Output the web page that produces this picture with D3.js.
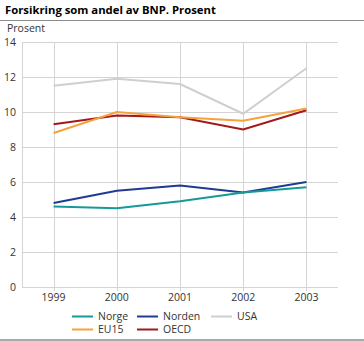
<!DOCTYPE html>
<html lang="no">
<head>
<meta charset="utf-8">
<script type="text/javascript" src="https://cdnjs.cloudflare.com/ajax/libs/d3/7.8.5/d3.min.js"></script>
<style>
body { margin: 0; background: #fff; }
svg { display: block; font-family: "Open Sans", "DejaVu Sans", sans-serif; }
</style>
</head>
<body>
<script type="text/javascript">
    var years = ["1999", "2000", "2001", "2002", "2003"]
    var yTicks = [0, 2, 4, 6, 8, 10, 12, 14]
    var norge = [4.6, 4.5, 4.9, 5.4, 5.7]
    var norden = [4.8, 5.5, 5.8, 5.4, 6.0]
    var usa = [11.5, 11.9, 11.6, 9.9, 12.5]
    var eu15 = [8.8, 10.0, 9.7, 9.5, 10.2]
    var oecd = [9.3, 9.8, 9.7, 9.0, 10.1]

    var series = [
        {name: "USA", values: usa, color: "#cfcfcf"},
        {name: "OECD", values: oecd, color: "#a11a1a"},
        {name: "EU15", values: eu15, color: "#f7a03c"},
        {name: "Norden", values: norden, color: "#1e3a94"},
        {name: "Norge", values: norge, color: "#16999a"}
    ]

    var w = 364
    var h = 341
    var plotLeft = 22, plotRight = 338, plotTop = 42, plotBottom = 287

    var svg = d3.select("body").append("svg")
        .attr("width", w)
        .attr("height", h)

    // title
    svg.append("text")
        .attr("x", 5).attr("y", 14)
        .attr("font-size", "11.3px")
        .attr("font-weight", "bold")
        .attr("fill", "#000")
        .text("Forsikring som andel av BNP. Prosent")
    svg.append("line")
        .attr("x1", 0).attr("x2", w).attr("y1", 20.5).attr("y2", 20.5)
        .attr("stroke", "#8c8c8c").attr("stroke-width", 1)
    svg.append("line")
        .attr("x1", 0).attr("x2", w).attr("y1", 340).attr("y2", 340)
        .attr("stroke", "#8c8c8c").attr("stroke-width", 1.5)

    svg.append("text")
        .attr("x", 7).attr("y", 32)
        .attr("font-size", "10.5px")
        .attr("fill", "#333")
        .text("Prosent")

    var x = d3.scalePoint().domain(years).range([plotLeft, plotRight]).padding(0.5)
    var y = d3.scaleLinear().domain([0, 14]).range([plotBottom, plotTop])

    // horizontal grid
    svg.append("g").selectAll("line")
        .data(yTicks)
        .enter()
        .append("line")
        .attr("x1", plotLeft).attr("x2", plotRight)
        .attr("y1", function(d) { return Math.round(y(d)) + 0.5 })
        .attr("y2", function(d) { return Math.round(y(d)) + 0.5 })
        .attr("stroke", "#d4d4d4")
        .attr("stroke-width", 1)

    // vertical grid
    svg.append("g").selectAll("line")
        .data(years)
        .enter()
        .append("line")
        .attr("x1", function(d) { return Math.round(x(d)) + 0.5 })
        .attr("x2", function(d) { return Math.round(x(d)) + 0.5 })
        .attr("y1", plotTop).attr("y2", plotBottom + 4)
        .attr("stroke", "#d4d4d4")
        .attr("stroke-width", 1)

    svg.append("line")
        .attr("x1", plotLeft + 0.5).attr("x2", plotLeft + 0.5)
        .attr("y1", plotTop).attr("y2", plotBottom)
        .attr("stroke", "#d4d4d4")

    // y labels
    svg.append("g").selectAll("text")
        .data(yTicks)
        .enter()
        .append("text")
        .attr("x", 16)
        .attr("y", function(d) { return y(d) + 4 })
        .attr("text-anchor", "end")
        .attr("font-size", "10.5px")
        .attr("fill", "#333")
        .text(function(d) { return d })

    // x labels
    svg.append("g").selectAll("text")
        .data(years)
        .enter()
        .append("text")
        .attr("x", function(d) { return x(d) })
        .attr("y", 301)
        .attr("text-anchor", "middle")
        .attr("font-size", "10.5px")
        .attr("fill", "#333")
        .text(function(d) { return d })

    var line = d3.line()
        .x(function(d, i) { return x(years[i]) })
        .y(function(d) { return y(d) })

    svg.append("g").selectAll("path")
        .data(series)
        .enter()
        .append("path")
        .attr("d", function(d) { return line(d.values) })
        .attr("fill", "none")
        .attr("stroke", function(d) { return d.color })
        .attr("stroke-width", 2)

    // legend
    var legend = [
        {name: "Norge", x: 72, y: 316.5},
        {name: "Norden", x: 137, y: 316.5},
        {name: "USA", x: 211, y: 316.5},
        {name: "EU15", x: 72, y: 329.5},
        {name: "OECD", x: 137, y: 329.5}
    ]
    var colorOf = {}
    series.forEach(function(s) { colorOf[s.name] = s.color })

    var lg = svg.append("g").selectAll("g")
        .data(legend)
        .enter()
        .append("g")
    lg.append("line")
        .attr("x1", function(d) { return d.x })
        .attr("x2", function(d) { return d.x + 21 })
        .attr("y1", function(d) { return d.y })
        .attr("y2", function(d) { return d.y })
        .attr("stroke", function(d) { return colorOf[d.name] })
        .attr("stroke-width", 2)
    lg.append("text")
        .attr("x", function(d) { return d.x + 26 })
        .attr("y", function(d) { return d.y + 3.5 })
        .attr("font-size", "10.5px")
        .attr("fill", "#333")
        .text(function(d) { return d.name })
</script>
</body>
</html>
